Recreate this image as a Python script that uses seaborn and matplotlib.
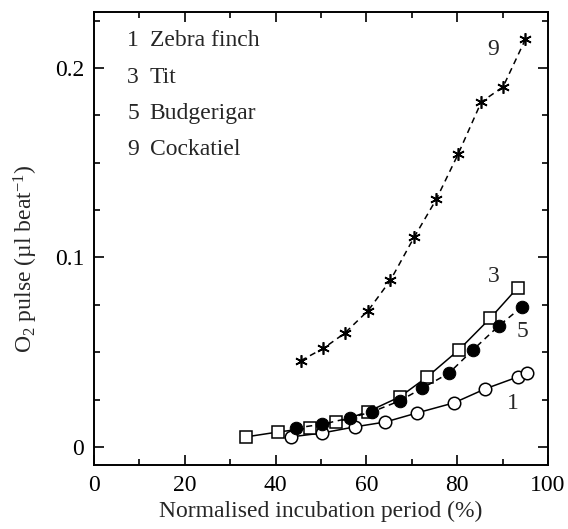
import numpy as np
import pandas as pd
import seaborn as sns
import matplotlib
matplotlib.use("Agg")
import matplotlib.pyplot as plt
from matplotlib.ticker import MultipleLocator

# Data
zebra_x = [43.3, 50.3, 57.4, 64.2, 71.2, 79.3, 86.2, 93.4, 95.4]
zebra_y = [0.0053, 0.0074, 0.0106, 0.0132, 0.018, 0.0233, 0.0307, 0.037, 0.039]

tit_x = [33.4, 40.5, 47.5, 53.4, 60.3, 67.4, 73.4, 80.4, 87.3, 93.3]
tit_y = [0.0053, 0.0079, 0.010, 0.013, 0.0186, 0.0265, 0.037, 0.0513, 0.068, 0.084]

budgie_x = [44.4, 50.3, 56.3, 61.3, 67.3, 72.3, 78.2, 83.5, 89.2, 94.3]
budgie_y = [0.010, 0.012, 0.0153, 0.0186, 0.0243, 0.031, 0.039, 0.0513, 0.064, 0.074]

cockatiel_x = [45.5, 50.5, 55.2, 60.4, 65.3, 70.5, 75.4, 80.2, 85.3, 90.1, 95.0]
cockatiel_y = [0.0455, 0.052, 0.060, 0.072, 0.088, 0.1106, 0.1307, 0.1545, 0.182, 0.190, 0.215]

legend_nums = ["1", "3", "5", "9"]
legend_names = ["Zebra finch", "Tit", "Budgerigar", "Cockatiel"]

sns.set_theme(style="ticks")
plt.rcParams["font.family"] = ["Liberation Serif", "DejaVu Serif"]
plt.rcParams["mathtext.fontset"] = "custom"
plt.rcParams["mathtext.rm"] = "Liberation Serif"
plt.rcParams["mathtext.it"] = "Liberation Serif:italic"

FS = 17

fig = plt.figure(figsize=(5.68, 5.29), dpi=100)
ax = fig.add_axes([94/568, 1-465/529, (548-94)/568, (465-12)/529])

lw = 1.1
ms = 9
sns.lineplot(x=zebra_x, y=zebra_y, ax=ax, color="black", lw=lw, marker="o", markersize=ms,
             markerfacecolor="white", markeredgecolor="black", markeredgewidth=1.1, sort=False, estimator=None)
sns.lineplot(x=tit_x, y=tit_y, ax=ax, color="black", lw=lw, marker="s", markersize=ms,
             markerfacecolor="white", markeredgecolor="black", markeredgewidth=1.1, sort=False, estimator=None)
sns.lineplot(x=budgie_x, y=budgie_y, ax=ax, color="black", lw=lw, marker="o", markersize=ms,
             markerfacecolor="black", markeredgecolor="black", linestyle=(0, (4, 3)), sort=False, estimator=None)
sns.lineplot(x=cockatiel_x, y=cockatiel_y, ax=ax, color="black", lw=lw, marker=(6, 2, 0), markersize=ms,
             markeredgecolor="black", markeredgewidth=1.2, linestyle=(0, (4, 3)), sort=False, estimator=None)

ax.set_xlim(0, 100)
ax.set_ylim(-0.0095, 0.2295)
ax.xaxis.set_major_locator(MultipleLocator(20))
ax.xaxis.set_minor_locator(MultipleLocator(10))
ax.yaxis.set_major_locator(MultipleLocator(0.1))
ax.yaxis.set_minor_locator(MultipleLocator(0.025))
ax.yaxis.set_major_formatter(matplotlib.ticker.FuncFormatter(lambda v, p: "0" if abs(v) < 1e-9 else f"{v:g}"))
ax.tick_params(which="both", direction="in", top=True, right=True, colors="black", labelsize=FS, width=1.2)
ax.tick_params(which="major", length=7, pad=7)
ax.tick_params(which="minor", length=4)
for s in ax.spines.values():
    s.set_linewidth(1.4)
    s.set_color("black")

ax.set_xlabel("Normalised incubation period (%)", fontsize=FS, labelpad=4)
ax.set_ylabel(r"O$_2$ pulse (µl beat$^{-1}$)", fontsize=FS)
ax.yaxis.set_label_coords(-0.118, 0.455)

for i, (n, t) in enumerate(zip(legend_nums, legend_names)):
    yy = 0.2142 - i * 0.0190
    ax.text(7.3, yy, n, fontsize=FS, ha="left", va="center")
    ax.text(12.3, yy, t, fontsize=FS, ha="left", va="center")

ax.text(87.9, 0.2095, "9", fontsize=FS, ha="center", va="center")
ax.text(88.1, 0.0897, "3", fontsize=FS, ha="center", va="center")
ax.text(94.3, 0.0607, "5", fontsize=FS, ha="center", va="center")
ax.text(92.3, 0.0232, "1", fontsize=FS, ha="center", va="center")

fig.savefig("out.png", dpi=100)
